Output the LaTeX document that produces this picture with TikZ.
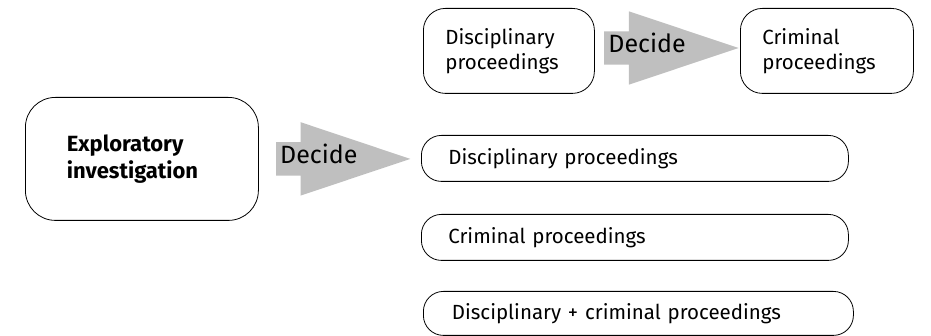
\documentclass[tikz,border=0pt]{standalone}
\usepackage{fontspec}
\setmainfont{Fira Sans}
\usetikzlibrary{positioning,shapes.arrows}

\tikzset{
  stage/.style={draw, thick, rounded corners=22pt, align=left, anchor=north west,
    inner xsep=22pt, font=\fontsize{20.5}{25}\selectfont},
  outcome/.style={draw, thick, rounded corners=20pt, anchor=north west,
    minimum width=427pt, minimum height=46pt, inner xsep=27pt, text width=373pt,
    font=\fontsize{20.5}{25}\selectfont},
  decide/.style={single arrow, fill=black!25, single arrow head extend=20pt,
    single arrow tip angle=37, single arrow head indent=0pt, inner xsep=4pt,
    text width=76pt, align=center, text height=13pt, text depth=4pt, inner ysep=8pt,
    font=\fontsize{25}{25}\selectfont}
}

\begin{document}
\begin{tikzpicture}[x=1pt,y=-1pt]
  \useasboundingbox (0,0) rectangle (931,336);

  \node[stage, minimum width=233pt, minimum height=123pt, rounded corners=30pt,
    font=\bfseries\fontsize{22}{27}\selectfont, inner xsep=40pt, text width=150pt]
    (explore) at (25,97) {Exploratory\\investigation};
  \node[decide, right=17pt of explore] (decide1) {Decide};

  \node[stage, minimum width=171pt, minimum height=85pt, text width=127pt]
    (disc) at (423,8) {Disciplinary\\proceedings};
  \node[decide, anchor=west] (decide2) at (604,48) {Decide};
  \node[stage, minimum width=173pt, minimum height=85pt, text width=129pt]
    (crim) at (740,8) {Criminal\\proceedings};

  \node[outcome] (onlydisc) at (421,135) {Disciplinary proceedings};
  \node[outcome] (onlycrim) at (421,214) {Criminal proceedings};
  \node[outcome, minimum width=430pt, minimum height=44pt] (both) at (423,291) {Disciplinary + criminal proceedings};
\end{tikzpicture}
\end{document}
